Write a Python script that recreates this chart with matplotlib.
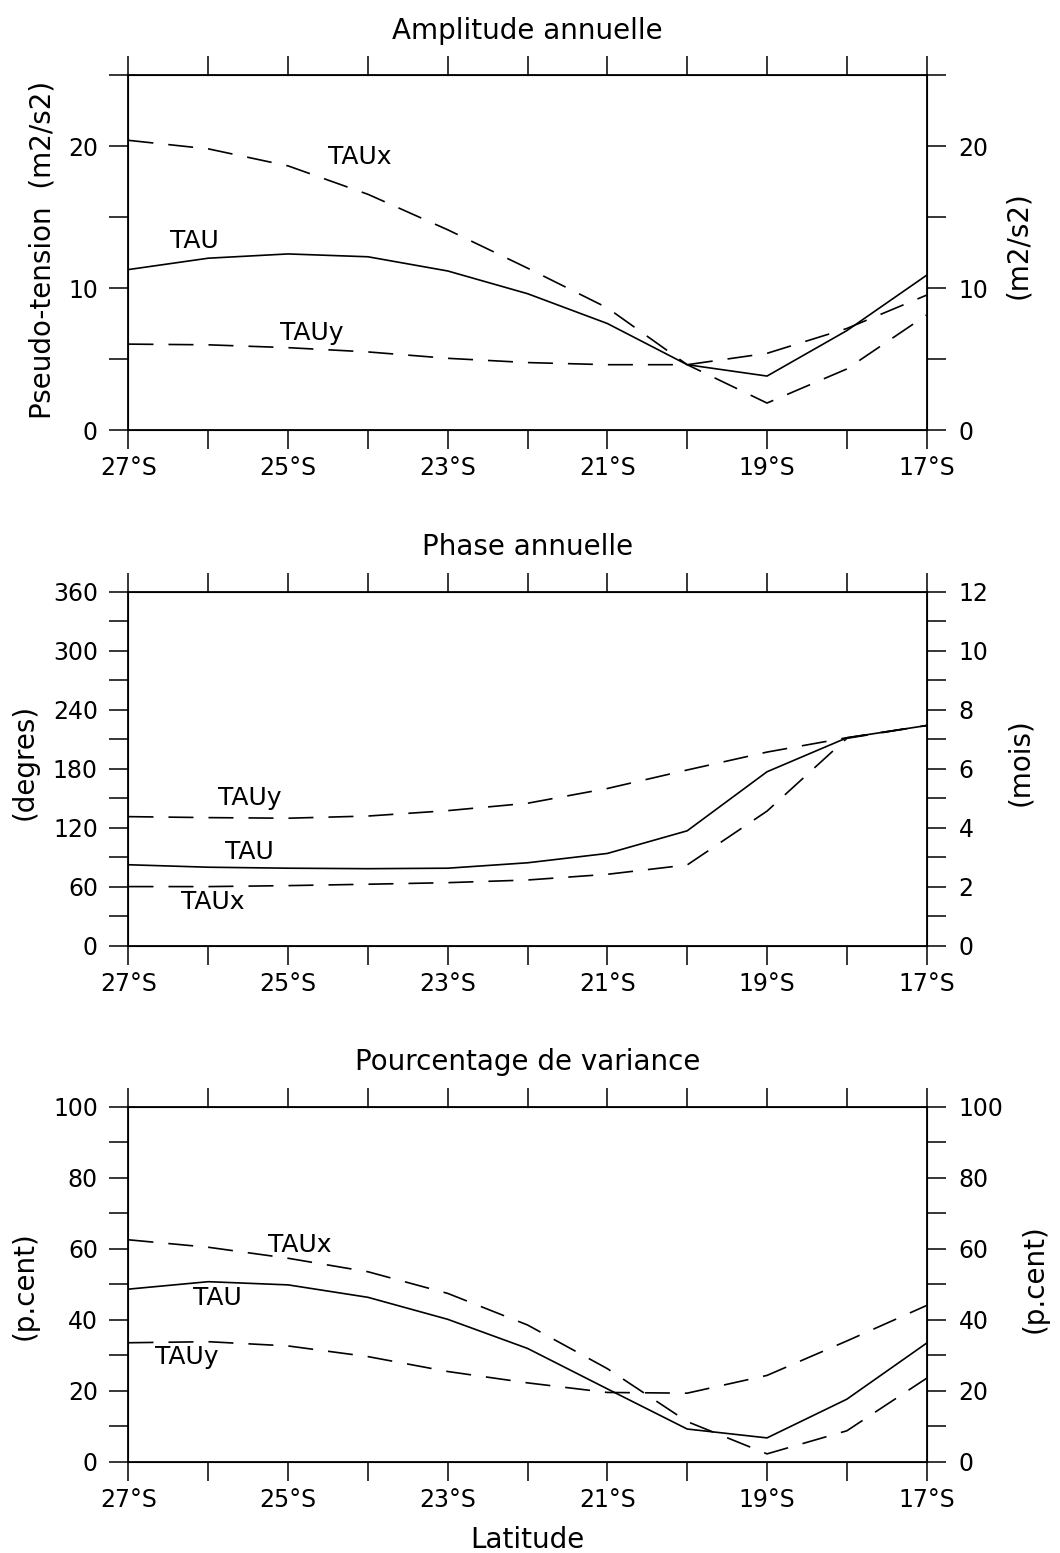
import numpy as np
import matplotlib.pyplot as plt
from matplotlib.ticker import MultipleLocator, FixedLocator

plt.rcParams['font.family'] = ['DejaVu Sans']

lat = [27, 26, 25, 24, 23, 22, 21, 20, 19, 18, 17]

# amplitude annuelle (m2/s2)
amp_tau = [11.3, 12.1, 12.4, 12.2, 11.2, 9.6, 7.5, 4.6, 3.8, 7.0, 10.9]
amp_taux = [20.4, 19.8, 18.6, 16.6, 14.1, 11.4, 8.6, 4.6, 1.9, 4.3, 8.1]
amp_tauy = [6.05, 6.0, 5.8, 5.5, 5.05, 4.75, 4.6, 4.6, 5.4, 7.15, 9.5]

# phase annuelle (degres)
pha_tau = [82.5, 80, 79, 78.5, 79, 84.5, 94, 117, 177, 211.5, 224]
pha_taux = [60.3, 60.3, 61.3, 62.7, 64.3, 67, 72.8, 82.3, 137, 211, 224]
pha_tauy = [131.4, 130.4, 129.8, 132, 137.5, 145, 160, 178.8, 197, 211.6, 224]

# pourcentage de variance
var_tau = [48.6, 50.7, 49.8, 46.3, 40.1, 31.9, 20.5, 9.2, 6.7, 17.6, 33.4]
var_taux = [62.5, 60.4, 57.3, 53.5, 47.4, 38.5, 26.2, 11.3, 2.2, 8.7, 23.5]
var_tauy = [33.5, 33.8, 32.6, 29.6, 25.4, 22.2, 19.5, 19.3, 24.3, 34.0, 44.0]

fs = 17      # ticks
fl = 20      # titres / axes
ft = 18      # noms des courbes
lw = 1.2
dash = (15, 9)

fig = plt.figure(1, [10.6, 15.53], dpi=100)


def panel(rect, tau, taux, tauy, ymax, ymaj, ymin, rmax, rmaj, rmin,
          title, lleft, lright, lpos, rpos, labels):
    ax = fig.add_axes(rect)
    ax.plot(lat, tau, '-', color='k', lw=lw)
    ax.plot(lat, taux, color='k', lw=lw, dashes=dash)
    ax.plot(lat, tauy, color='k', lw=lw, dashes=dash)
    ax.set_xlim(27, 17)
    ax.set_ylim(0, ymax)
    ax.xaxis.set_major_locator(FixedLocator(lat))
    ax.set_xticklabels([f'{v}°S' if i % 2 == 0 else ''
                        for i, v in enumerate(lat)])
    ax.yaxis.set_major_locator(MultipleLocator(ymaj))
    ax.yaxis.set_minor_locator(MultipleLocator(ymin))
    ax.tick_params(axis='both', which='both', direction='out', length=14,
                   width=1.1, labelsize=fs, colors='k')
    ax.tick_params(axis='x', top=True, pad=5)
    ax.tick_params(axis='y', pad=8)
    for s in ax.spines.values():
        s.set_linewidth(1.3)
    ax2 = ax.twinx()
    ax2.set_ylim(0, rmax)
    ax2.yaxis.set_major_locator(MultipleLocator(rmaj))
    ax2.yaxis.set_minor_locator(MultipleLocator(rmin))
    ax2.tick_params(axis='y', which='both', direction='out', length=14,
                    width=1.1, labelsize=fs, pad=9)
    ax.text(0.5, 1.125, title, transform=ax.transAxes, ha='center',
            va='center', fontsize=fl)
    ax.text(lpos[0], lpos[1], lleft, transform=ax.transAxes, rotation=90,
            ha='center', va='center', fontsize=fl)
    ax.text(rpos[0], rpos[1], lright, transform=ax.transAxes, rotation=90,
            ha='center', va='center', fontsize=fl)
    for (x, y, t) in labels:
        ax.text(x, y, t, ha='center', va='center', fontsize=ft)
    return ax


panel([0.1212, 0.7231, 0.753, 0.2286], amp_tau, amp_taux, amp_tauy,
      25, 10, 5, 25, 10, 5, 'Amplitude annuelle',
      'Pseudo-tension  (m2/s2)', '(m2/s2)', (-0.108, 0.507), (1.114, 0.52),
      [(24.1, 19.2, 'TAUx'), (26.17, 13.3, 'TAU'), (24.7, 6.85, 'TAUy')])

panel([0.1212, 0.3909, 0.753, 0.2281], pha_tau, pha_taux, pha_tauy,
      360, 60, 30, 12, 2, 1, 'Phase annuelle',
      '(degres)', '(mois)', (-0.13, 0.52), (1.117, 0.52),
      [(25.48, 150.4, 'TAUy'), (25.48, 95.5, 'TAU'), (25.95, 44.7, 'TAUx')])

ax3 = panel([0.1212, 0.0588, 0.753, 0.2286], var_tau, var_taux, var_tauy,
            100, 20, 10, 100, 20, 10, 'Pourcentage de variance',
            '(p.cent)', '(p.cent)', (-0.13, 0.495), (1.135, 0.517),
            [(24.85, 61, 'TAUx'), (25.88, 46, 'TAU'), (26.27, 29.5, 'TAUy')])
ax3.text(0.5, -0.22, 'Latitude', transform=ax3.transAxes, ha='center',
         va='center', fontsize=fl)

plt.savefig('out.png', dpi=100)
